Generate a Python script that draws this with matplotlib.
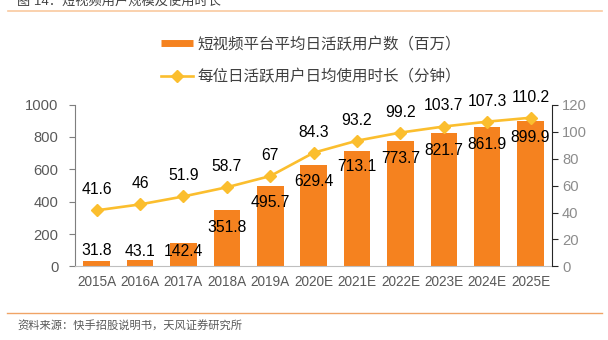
import matplotlib
matplotlib.use("Agg")
import matplotlib.pyplot as plt
from matplotlib.lines import Line2D

plt.rcParams["font.family"] = ["Liberation Sans", "Noto Sans CJK SC", "DejaVu Sans"]

# ── Data ──────────────────────────────────────────────────────────────────────
years = ["2015A", "2016A", "2017A", "2018A", "2019A", "2020E",
         "2021E", "2022E", "2023E", "2024E", "2025E"]
dau = [31.8, 43.1, 142.4, 351.8, 495.7, 629.4, 713.1, 773.7, 821.7, 861.9, 899.9]
minutes = [41.6, 46, 51.9, 58.7, 67, 84.3, 93.2, 99.2, 103.7, 107.3, 110.2]

dau_labels = ["31.8", "43.1", "142.4", "351.8", "495.7", "629.4",
              "713.1", "773.7", "821.7", "861.9", "899.9"]
minute_labels = ["41.6", "46", "51.9", "58.7", "67", "84.3",
                 "93.2", "99.2", "103.7", "107.3", "110.2"]

# vertical shift of each bar label from its bar top (pixels)
bar_label_shift = [10.6, 7.6, -7.7, -17.7, -16.5, -17.4, -15.7, -17, -16.7, -17.3, -16.7]

ORANGE = "#F5821F"
GOLD = "#FBBE2E"
GREY = "#595959"

fig = plt.figure(figsize=(6.08, 3.40), dpi=100)
ax = fig.add_axes([0.1234, 0.2162, 0.785, 0.4764])
ax2 = ax.twinx()

x = list(range(len(years)))

# ── Bars: daily active users ──────────────────────────────────────────────────
ax.bar(x, dau, width=0.61, color=ORANGE, edgecolor="none", zorder=2)
ax.set_ylim(0, 1000)
ax.set_yticks([0, 200, 400, 600, 800, 1000])
ax.set_xlim(-0.5, len(years) - 0.5)
ax.set_xticks(x)
ax.set_xticklabels(years)
for xi, v, lab, dy in zip(x, dau, dau_labels, bar_label_shift):
    ax.annotate(lab, (xi, v), xytext=(0, dy * 0.72), textcoords="offset points",
                ha="center", va="center", fontsize=11.3, color="black", zorder=5)

# ── Line: minutes per user per day ────────────────────────────────────────────
ax2.plot(x, minutes, color=GOLD, linewidth=1.9, marker="D", markersize=6.5,
         markeredgecolor=GOLD, zorder=4)
ax2.set_ylim(0, 120)
ax2.set_yticks([0, 20, 40, 60, 80, 100, 120])
for xi, v, lab in zip(x, minutes, minute_labels):
    ax2.annotate(lab, (xi, v), xytext=(0, 14.8), textcoords="offset points",
                 ha="center", va="center", fontsize=11.3, color="black", zorder=5)

# ── Axes styling ──────────────────────────────────────────────────────────────
for a in (ax, ax2):
    a.spines["top"].set_visible(False)
ax.spines["right"].set_visible(False)
ax.spines["left"].set_color("#7F7F7F")
ax.spines["bottom"].set_color("#BFBFBF")
ax2.spines["left"].set_visible(False)
ax2.spines["bottom"].set_visible(False)
ax2.spines["right"].set_color("#262626")

ax.tick_params(axis="x", length=0, pad=6, labelsize=9.8, labelcolor=GREY)
ax.tick_params(axis="y", length=4, width=0.8, color="#7F7F7F", pad=8,
               labelsize=10.6, labelcolor=GREY)
ax2.tick_params(axis="y", length=4, width=0.8, color="#262626", pad=3,
                labelsize=10.6, labelcolor="#8C8C8C")

# ── Legend ────────────────────────────────────────────────────────────────────
handles = [
    Line2D([], [], color=ORANGE, linewidth=5, solid_capstyle="butt"),
    Line2D([], [], color=GOLD, linewidth=1.9, marker="D", markersize=6.5),
]
labels = ["短视频平台平均日活跃用户数（百万）", "每位日活跃用户日均使用时长（分钟）"]
leg = fig.legend(handles, labels, loc="upper left", bbox_to_anchor=(0.265, 0.892),
                 frameon=False, fontsize=11.2, handlelength=2.05, handletextpad=0.3,
                 labelspacing=1.1, borderaxespad=0, borderpad=0)
for t in leg.get_texts():
    t.set_color("#404040")

# ── Header / footer ───────────────────────────────────────────────────────────
fig.text(0.028, 0.985, "图 14：短视频用户规模及使用时长", fontsize=9.5,
         color="#404040", ha="left", va="baseline")
fig.add_artist(Line2D([0.013, 0.99], [1 - 11 / 340, 1 - 11 / 340],
                      color="#F9C9A0", linewidth=1.2))
fig.add_artist(Line2D([0.012, 0.99], [1 - 313 / 340, 1 - 313 / 340],
                      color="#F0A466", linewidth=1.0))
fig.text(0.028, 1 - 326 / 340, "资料来源：快手招股说明书，天风证券研究所",
         fontsize=8.1, color=GREY, ha="left", va="center")

fig.savefig("out.png", dpi=100, facecolor="white")
plt.close(fig)
